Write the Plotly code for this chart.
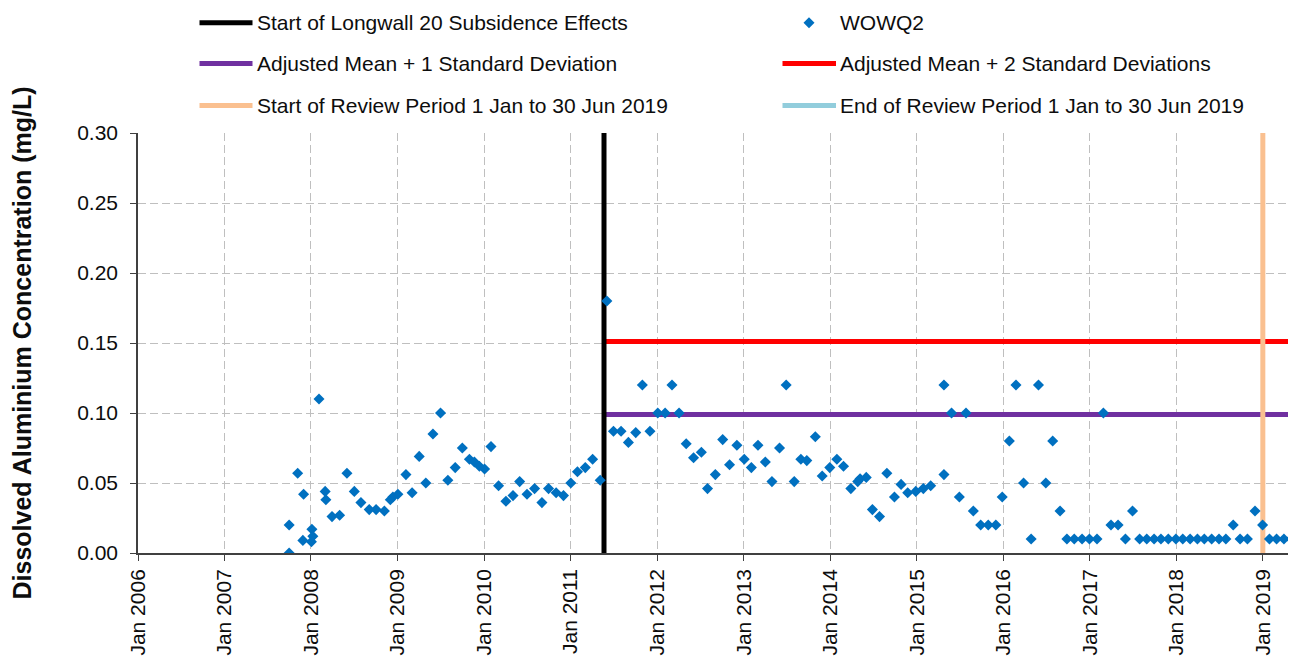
import plotly.graph_objects as go

# ---------------- data ----------------
sample_dates = [
    "2007-10-01", "2007-10-01", "2007-11-06", "2007-12-01", "2007-11-28",
    "2008-01-05", "2008-01-09", "2008-01-03", "2008-02-04", "2008-03-01",
    "2008-03-04", "2008-03-30", "2008-05-01", "2008-06-01", "2008-07-02",
    "2008-07-30", "2008-09-03", "2008-10-02", "2008-11-06", "2008-12-01",
    "2008-12-12", "2009-01-02", "2009-02-05", "2009-03-03", "2009-04-02",
    "2009-04-30", "2009-05-30", "2009-07-01", "2009-08-01", "2009-09-01",
    "2009-10-01", "2009-10-31", "2009-11-21", "2009-12-12", "2010-01-03",
    "2010-01-30", "2010-03-03", "2010-04-03", "2010-05-03", "2010-05-31",
    "2010-07-01", "2010-08-02", "2010-09-02", "2010-09-30", "2010-11-01",
    "2010-12-02", "2011-01-02", "2011-01-30", "2011-03-04", "2011-04-04",
    "2011-05-06", "2011-06-03", "2011-07-01", "2011-08-02", "2011-09-02",
    "2011-10-03", "2011-10-31", "2011-12-02", "2012-01-04", "2012-02-04",
    "2012-03-04", "2012-04-03", "2012-05-03", "2012-06-03", "2012-07-06",
    "2012-08-01", "2012-09-03", "2012-10-04", "2012-11-02", "2012-12-03",
    "2013-01-03", "2013-02-02", "2013-03-02", "2013-04-02", "2013-04-30",
    "2013-06-01", "2013-06-29", "2013-08-02", "2013-08-30", "2013-09-24",
    "2013-10-30", "2013-11-28", "2013-12-30", "2014-01-29", "2014-02-26",
    "2014-03-29", "2014-04-27", "2014-05-07", "2014-06-02", "2014-06-28",
    "2014-07-28", "2014-08-28", "2014-09-29", "2014-10-27", "2014-11-24",
    "2014-12-28", "2015-01-29", "2015-03-01", "2015-04-26", "2015-04-26",
    "2015-05-28", "2015-06-30", "2015-07-28", "2015-08-28", "2015-09-28",
    "2015-10-30", "2015-12-01", "2015-12-28", "2016-01-27", "2016-02-24",
    "2016-03-27", "2016-04-28", "2016-05-29", "2016-06-29", "2016-07-28",
    "2016-08-28", "2016-09-26", "2016-10-27", "2016-11-29", "2016-12-30",
    "2017-01-31", "2017-02-27", "2017-03-31", "2017-04-30", "2017-05-31",
    "2017-06-30", "2017-07-30", "2017-08-29", "2017-09-29", "2017-10-28",
    "2017-11-28", "2017-12-30", "2018-01-28", "2018-02-28", "2018-03-31",
    "2018-04-29", "2018-05-30", "2018-06-30", "2018-07-29", "2018-08-29",
    "2018-09-27", "2018-10-28", "2018-11-29", "2018-12-31", "2019-01-29",
    "2019-02-28", "2019-03-31", "2019-04-30",
]
al_values = [
    0.000, 0.020, 0.057, 0.042, 0.009,
    0.017, 0.012, 0.008, 0.110, 0.044,
    0.038, 0.026, 0.027, 0.057, 0.044,
    0.036, 0.031, 0.031, 0.030, 0.038,
    0.040, 0.042, 0.056, 0.043, 0.069,
    0.050, 0.085, 0.100, 0.052, 0.061,
    0.075, 0.067, 0.065, 0.062, 0.060,
    0.076, 0.048, 0.037, 0.041, 0.051,
    0.042, 0.046, 0.036, 0.046, 0.043,
    0.041, 0.050, 0.058, 0.061, 0.067,
    0.052, 0.180, 0.087, 0.087, 0.079,
    0.086, 0.120, 0.087, 0.100, 0.100,
    0.120, 0.100, 0.078, 0.068, 0.072,
    0.046, 0.056, 0.081, 0.063, 0.077,
    0.067, 0.061, 0.077, 0.065, 0.051,
    0.075, 0.120, 0.051, 0.067, 0.066,
    0.083, 0.055, 0.061, 0.067, 0.062,
    0.046, 0.051, 0.053, 0.054, 0.031,
    0.026, 0.057, 0.040, 0.049, 0.043,
    0.044, 0.046, 0.048, 0.120, 0.056,
    0.100, 0.040, 0.100, 0.030, 0.020,
    0.020, 0.020, 0.040, 0.080, 0.120,
    0.050, 0.010, 0.120, 0.050, 0.080,
    0.030, 0.010, 0.010, 0.010, 0.010,
    0.010, 0.100, 0.020, 0.020, 0.010,
    0.030, 0.010, 0.010, 0.010, 0.010,
    0.010, 0.010, 0.010, 0.010, 0.010,
    0.010, 0.010, 0.010, 0.010, 0.020,
    0.010, 0.010, 0.030, 0.020, 0.010,
    0.010, 0.010, 0.010,
]

longwall_start = "2011-05-22"
review_start = "2019-01-01"
review_end = "2019-06-30"
threshold_end = "2019-06-30"
mean_plus_1sd = 0.099
mean_plus_2sd = 0.151
y_limits = [0.0, 0.30]
x_limits = ["2006-01-01", "2019-05-21"]

series_names = [
    "Start of Longwall 20 Subsidence Effects",
    "WOWQ2",
    "Adjusted Mean + 1 Standard Deviation",
    "Adjusted Mean + 2 Standard Deviations",
    "Start of Review Period 1 Jan to 30 Jun 2019",
    "End of Review Period 1 Jan to 30 Jun 2019",
]

# ---------------- styles ----------------
C_BLACK = "#000000"
C_BLUE = "#0070C0"
C_PURPLE = "#7030A0"
C_RED = "#FF0000"
C_PEACH = "#FAC090"
C_LBLUE = "#92CDDC"
C_TEXT = "#0d0d0d"
FONT = "Liberation Sans, Arial, sans-serif"

OFF = 8                      # default page (body) margin of the html page
W, H = 1296 - OFF, 664 - OFF
ML, MR, MT, MB = 130, 0, 125, 111

fig = go.Figure()

# threshold lines
fig.add_trace(go.Scatter(x=[longwall_start, threshold_end], y=[mean_plus_1sd, mean_plus_1sd],
                         mode="lines", line=dict(color=C_PURPLE, width=5),
                         name=series_names[2], showlegend=False, hoverinfo="skip"))
fig.add_trace(go.Scatter(x=[longwall_start, threshold_end], y=[mean_plus_2sd, mean_plus_2sd],
                         mode="lines", line=dict(color=C_RED, width=5),
                         name=series_names[3], showlegend=False, hoverinfo="skip"))
# vertical lines
fig.add_trace(go.Scatter(x=[longwall_start, longwall_start], y=y_limits,
                         mode="lines", line=dict(color=C_BLACK, width=5),
                         name=series_names[0], showlegend=False, hoverinfo="skip"))
fig.add_trace(go.Scatter(x=[review_start, review_start], y=y_limits,
                         mode="lines", line=dict(color=C_PEACH, width=5),
                         name=series_names[4], showlegend=False, hoverinfo="skip"))
fig.add_trace(go.Scatter(x=[review_end, review_end], y=y_limits,
                         mode="lines", line=dict(color=C_LBLUE, width=5),
                         name=series_names[5], showlegend=False, hoverinfo="skip"))
# samples
fig.add_trace(go.Scatter(x=sample_dates, y=al_values, mode="markers",
                         marker=dict(symbol="diamond", size=8.5, color=C_BLUE),
                         name=series_names[1], showlegend=False))

# ---------------- manual legend (page pixel positions) ----------------
pw = W - ML - MR
ph = H - MT - MB
plot_left = OFF + ML
plot_bottom = OFF + MT + ph


def px_x(px):
    return (px - plot_left) / pw


def px_y(py):
    return (plot_bottom - py) / ph


rows = [22.7, 63.5, 105.5]
col_line = [(199.5, 252.5), (782.5, 836)]
col_text = [255, 837.5]
legend_items = [
    (0, 0, "line", C_BLACK, series_names[0]),
    (0, 1, "diamond", C_BLUE, series_names[1]),
    (1, 0, "line", C_PURPLE, series_names[2]),
    (1, 1, "line", C_RED, series_names[3]),
    (2, 0, "line", C_PEACH, series_names[4]),
    (2, 1, "line", C_LBLUE, series_names[5]),
]
shapes = []
annotations = []
for r, c, kind, color, label in legend_items:
    yy = px_y(rows[r])
    if kind == "line":
        shapes.append(dict(type="line", xref="paper", yref="paper",
                           x0=px_x(col_line[c][0]), x1=px_x(col_line[c][1]), y0=yy, y1=yy,
                           line=dict(color=color, width=5)))
    else:
        shapes.append(dict(type="path", xref="paper", yref="paper",
                           xsizemode="pixel", ysizemode="pixel",
                           xanchor=px_x(809), yanchor=yy,
                           path="M0,5.5 L5.5,0 L0,-5.5 L-5.5,0 Z",
                           fillcolor=color, line=dict(width=0)))
    annotations.append(dict(xref="paper", yref="paper", x=px_x(col_text[c]), y=yy,
                            xanchor="left", yanchor="middle", showarrow=False,
                            text=label, font=dict(family=FONT, size=21, color=C_TEXT)))

fig.update_layout(
    width=W, height=H,
    margin=dict(l=ML, r=MR, t=MT, b=MB, pad=0),
    plot_bgcolor="white", paper_bgcolor="white",
    showlegend=False,
    font=dict(family=FONT, size=21, color=C_TEXT),
    shapes=shapes, annotations=annotations,
    xaxis=dict(
        type="date", range=x_limits, tick0="2006-01-01", dtick="M12",
        tickformat="%b %Y", tickangle=-90,
        showgrid=True, gridcolor="#BFBFBF", griddash="8px,4px", gridwidth=1,
        showline=True, linecolor="#404040", linewidth=1.5,
        ticks="outside", ticklen=6, tickcolor="#404040",
        ticklabelstandoff=0,
        tickfont=dict(family=FONT, size=21, color=C_TEXT),
        automargin=False, zeroline=False,
    ),
    yaxis=dict(
        range=y_limits, dtick=0.05, tickformat=".2f",
        showgrid=True, gridcolor="#BFBFBF", griddash="8px,4px", gridwidth=1,
        showline=True, linecolor="#404040", linewidth=1.5,
        ticks="outside", ticklen=6, tickcolor="#404040",
        ticklabelstandoff=8,
        tickfont=dict(family=FONT, size=21, color=C_TEXT),
        automargin=False, zeroline=False,
        title=dict(text="<b>Dissolved Aluminium Concentration (mg/L)</b>",
                   font=dict(family=FONT, size=25, color=C_TEXT), standoff=43),
    ),
)

fig.write_html("out.html")
